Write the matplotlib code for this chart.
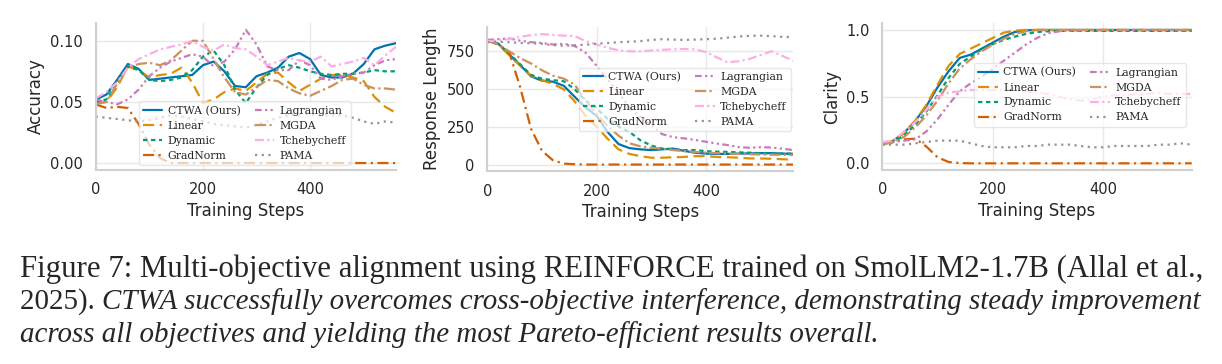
import numpy as np
import matplotlib
matplotlib.use("Agg")
import matplotlib.pyplot as plt
import seaborn as sns

# training steps (every 20 steps)
steps = np.arange(0, 561, 20)

methods = ["CTWA (Ours)", "Linear", "Dynamic", "GradNorm",
           "Lagrangian", "MGDA", "Tchebycheff", "PAMA"]

# --- Accuracy ---
acc_ctwa = [0.052, 0.056, 0.068, 0.081, 0.077, 0.068, 0.069, 0.070, 0.071, 0.072, 0.080, 0.083, 0.075, 0.063, 0.062,
            0.071, 0.074, 0.078, 0.087, 0.090, 0.085, 0.072, 0.070, 0.070, 0.073, 0.081, 0.093, 0.096, 0.098]
acc_linear = [0.049, 0.050, 0.062, 0.079, 0.076, 0.070, 0.072, 0.073, 0.078, 0.066, 0.049, 0.052, 0.058, 0.061, 0.059,
              0.066, 0.073, 0.074, 0.066, 0.059, 0.064, 0.069, 0.072, 0.072, 0.070, 0.067, 0.054, 0.046, 0.041]
acc_dynamic = [0.050, 0.052, 0.066, 0.079, 0.076, 0.068, 0.067, 0.068, 0.070, 0.076, 0.087, 0.092, 0.080, 0.060, 0.049,
               0.062, 0.072, 0.077, 0.080, 0.078, 0.075, 0.073, 0.072, 0.073, 0.073, 0.074, 0.076, 0.075, 0.075]
acc_gradnorm = [0.048, 0.045, 0.046, 0.045, 0.032, 0.015, 0.004, 0.000, 0.000, 0.000, 0.000, 0.000, 0.000, 0.000, 0.000,
                0.000, 0.000, 0.000, 0.000, 0.000, 0.000, 0.000, 0.000, 0.000, 0.000, 0.000, 0.000, 0.000, 0.000]
acc_lagr = [0.052, 0.050, 0.048, 0.052, 0.060, 0.071, 0.078, 0.083, 0.086, 0.089, 0.087, 0.079, 0.083, 0.093, 0.109,
            0.097, 0.079, 0.076, 0.076, 0.084, 0.080, 0.069, 0.068, 0.071, 0.073, 0.074, 0.080, 0.084, 0.085]
acc_mgda = [0.048, 0.050, 0.065, 0.078, 0.081, 0.082, 0.080, 0.084, 0.092, 0.100, 0.100, 0.085, 0.070, 0.058, 0.056,
            0.062, 0.068, 0.067, 0.061, 0.057, 0.055, 0.059, 0.063, 0.068, 0.069, 0.064, 0.061, 0.061, 0.060]
acc_tcheby = [0.053, 0.058, 0.066, 0.078, 0.085, 0.089, 0.093, 0.095, 0.097, 0.100, 0.095, 0.092, 0.097, 0.094, 0.093,
              0.087, 0.080, 0.083, 0.086, 0.084, 0.083, 0.087, 0.079, 0.081, 0.083, 0.086, 0.080, 0.088, 0.095]
acc_pama = [0.038, 0.037, 0.036, 0.035, 0.034, 0.035, 0.037, 0.039, 0.038, 0.036, 0.034, 0.032, 0.031, 0.030, 0.029,
            0.031, 0.034, 0.037, 0.039, 0.040, 0.040, 0.039, 0.039, 0.039, 0.037, 0.034, 0.032, 0.034, 0.033]

# --- Response length ---
len_ctwa = [818, 795, 725, 655, 580, 552, 545, 518, 445, 375, 320, 215, 135, 108, 100,
            95, 100, 105, 90, 78, 72, 70, 70, 72, 73, 75, 75, 72, 70]
len_linear = [815, 790, 720, 650, 585, 555, 530, 495, 415, 320, 250, 170, 100, 70, 55,
              45, 45, 48, 50, 55, 55, 50, 48, 45, 40, 40, 38, 35, 32]
len_dynamic = [818, 795, 730, 660, 590, 565, 555, 548, 495, 420, 370, 300, 250, 215, 160,
               125, 105, 100, 95, 95, 88, 85, 83, 80, 78, 75, 72, 72, 72]
len_gradnorm = [818, 790, 740, 510, 235, 90, 28, 6, 2, 0, 0, 0, 0, 0, 0,
                0, 0, 0, 0, 0, 0, 0, 0, 0, 0, 0, 0, 0, 0]
len_lagr = [820, 825, 830, 815, 805, 800, 790, 795, 780, 735, 650, 560, 475, 375, 315,
            260, 200, 180, 172, 162, 150, 138, 128, 115, 110, 114, 112, 104, 95]
len_mgda = [820, 790, 745, 700, 665, 620, 585, 565, 525, 420, 330, 255, 190, 140, 120,
            110, 105, 95, 88, 83, 78, 75, 72, 70, 68, 66, 65, 64, 63]
len_tcheby = [812, 815, 825, 840, 852, 858, 852, 848, 845, 812, 790, 768, 752, 745, 745,
              750, 755, 758, 760, 758, 740, 705, 672, 680, 695, 720, 745, 715, 682]
len_pama = [805, 808, 805, 800, 798, 795, 785, 782, 785, 788, 795, 800, 805, 808, 812,
            820, 825, 822, 820, 822, 825, 828, 835, 842, 847, 848, 845, 840, 838]

# --- Clarity ---
clr_ctwa = [0.15, 0.17, 0.23, 0.32, 0.43, 0.57, 0.69, 0.79, 0.815, 0.86, 0.905, 0.95, 0.985, 0.997, 1.0,
            1.0, 1.0, 1.0, 1.0, 1.0, 1.0, 1.0, 1.0, 1.0, 1.0, 1.0, 1.0, 1.0, 1.0]
clr_linear = [0.15, 0.17, 0.23, 0.32, 0.44, 0.59, 0.73, 0.82, 0.86, 0.90, 0.94, 0.98, 0.995, 1.0, 1.0,
              1.0, 1.0, 1.0, 1.0, 1.0, 1.0, 1.0, 1.0, 1.0, 1.0, 1.0, 1.0, 1.0, 1.0]
clr_dynamic = [0.14, 0.16, 0.21, 0.29, 0.39, 0.51, 0.64, 0.745, 0.80, 0.855, 0.895, 0.925, 0.95, 0.97, 0.985,
               0.99, 0.993, 0.993, 0.993, 0.993, 0.993, 0.993, 0.993, 0.993, 0.993, 0.993, 0.993, 0.993, 0.993]
clr_gradnorm = [0.15, 0.16, 0.18, 0.185, 0.125, 0.045, 0.01, 0.002, 0.0, 0.0, 0.0, 0.0, 0.0, 0.0, 0.0,
                0.0, 0.0, 0.0, 0.0, 0.0, 0.0, 0.0, 0.0, 0.0, 0.0, 0.0, 0.0, 0.0, 0.0]
clr_lagr = [0.15, 0.16, 0.17, 0.18, 0.24, 0.33, 0.44, 0.54, 0.60, 0.65, 0.71, 0.77, 0.83, 0.89, 0.94,
            0.975, 0.99, 0.995, 0.997, 0.998, 0.998, 0.998, 0.998, 0.998, 0.998, 0.998, 0.998, 0.998, 0.998]
clr_mgda = [0.14, 0.16, 0.20, 0.27, 0.36, 0.47, 0.60, 0.71, 0.78, 0.84, 0.89, 0.935, 0.97, 0.99, 1.0,
            1.0, 1.0, 1.0, 1.0, 1.0, 1.0, 1.0, 1.0, 1.0, 1.0, 1.0, 1.0, 1.0, 1.0]
clr_tcheby = [0.16, 0.17, 0.24, 0.31, 0.40, 0.50, 0.53, 0.54, 0.55, 0.55, 0.55, 0.55, 0.55, 0.54, 0.53,
              0.52, 0.50, 0.48, 0.47, 0.48, 0.50, 0.51, 0.51, 0.52, 0.52, 0.53, 0.52, 0.52, 0.52]
clr_pama = [0.14, 0.14, 0.14, 0.15, 0.16, 0.17, 0.17, 0.17, 0.15, 0.13, 0.12, 0.12, 0.12, 0.13, 0.13,
            0.14, 0.14, 0.14, 0.13, 0.12, 0.12, 0.13, 0.13, 0.13, 0.13, 0.14, 0.14, 0.15, 0.14]

panels = [
    ("Accuracy", [acc_ctwa, acc_linear, acc_dynamic, acc_gradnorm, acc_lagr, acc_mgda, acc_tcheby, acc_pama],
     [0.0, 0.05, 0.10], ["0.00", "0.05", "0.10"]),
    ("Response Length", [len_ctwa, len_linear, len_dynamic, len_gradnorm, len_lagr, len_mgda, len_tcheby, len_pama],
     [0, 250, 500, 750], ["0", "250", "500", "750"]),
    ("Clarity", [clr_ctwa, clr_linear, clr_dynamic, clr_gradnorm, clr_lagr, clr_mgda, clr_tcheby, clr_pama],
     [0.0, 0.5, 1.0], ["0.0", "0.5", "1.0"]),
]

colors = ["#0173b2", "#de8f05", "#029e73", "#d55e00", "#cc78bc", "#ca9161", "#fbafe4", "#949494"]
styles = ["-", (0, (5, 2.5)), (0, (2, 1.6)), (0, (5, 2, 1, 2)),
          (0, (3, 1.5, 1, 1.5, 1, 1.5)), (0, (5, 1.5, 1, 1.5)), (0, (4, 1.5, 1, 1.5)), (0, (1, 2))]

sns.set_theme(style="whitegrid")
plt.rcParams["font.family"] = ["DejaVu Sans"]

fig = plt.figure(figsize=(12.22, 3.64), dpi=100)

# axes rectangles and legend anchors (figure / axes fractions)
rects = [[0.0783, 0.533, 0.2457, 0.4047],
         [0.3988, 0.530, 0.2504, 0.395],
         [0.7220, 0.533, 0.2532, 0.403]]
leg_anchor = [(0.143, 0.465), (0.30, 0.72), (0.296, 0.729)]
ylims = [(-0.0057, 0.1148), (-43, 903), (-0.05, 1.05)]

for k, (ylabel, series, yticks, yticklabels) in enumerate(panels):
    ax = fig.add_axes(rects[k])
    for name, vals, c, ls in zip(methods, series, colors, styles):
        ax.plot(steps, vals, color=c, linestyle=ls, linewidth=1.6, label=name)
    ax.set_xlim(0, 560)
    ax.set_ylim(*ylims[k])
    ax.set_xticks([0, 200, 400])
    ax.set_yticks(yticks)
    ax.set_yticklabels(yticklabels)
    ax.tick_params(axis="both", length=0, pad=9, labelsize=10.5, labelcolor="#262626")
    ax.set_xlabel("Training Steps", fontsize=12, color="#262626", labelpad=3)
    ax.set_ylabel(ylabel, fontsize=12, color="#262626", labelpad=4)
    ax.grid(True, color="#e8e8e8", linewidth=1.0)
    for side in ["top", "right"]:
        ax.spines[side].set_visible(False)
    for side in ["left", "bottom"]:
        ax.spines[side].set_color("#d0d0d0")
        ax.spines[side].set_linewidth(1.5)
    ax.legend(ncol=2, loc="upper left", bbox_to_anchor=leg_anchor[k],
              prop={"family": "DejaVu Serif", "size": 7.8},
              frameon=True, framealpha=0.7, edgecolor="#dddddd",
              handlelength=1.8, labelspacing=0.45, columnspacing=1.3,
              borderpad=0.4, handletextpad=0.5, borderaxespad=0)

# caption below the panels, each line fitted to the reference width
cap_font = "Liberation Serif"
x0 = 20 / 1222
renderer = fig.canvas.get_renderer()

line1 = fig.text(x0, 1 - 276.7 / 364,
                 "Figure 7: Multi-objective alignment using REINFORCE trained on SmolLM2-1.7B (Allal et al.,",
                 family=cap_font, fontsize=20, va="baseline")
w1 = line1.get_window_extent(renderer).width
line1.set_fontsize(20 * 1185 / w1)

line2a = fig.text(x0, 1 - 309 / 364, "2025). ", family=cap_font, fontsize=20, va="baseline")
line2b = fig.text(x0, 1 - 309 / 364,
                  "CTWA successfully overcomes cross-objective interference, demonstrating steady improvement",
                  family=cap_font, style="italic", fontsize=20, va="baseline")
w2 = line2a.get_window_extent(renderer).width + line2b.get_window_extent(renderer).width
size2 = 20 * 1185 / w2
line2a.set_fontsize(size2)
line2b.set_fontsize(size2)
wa = line2a.get_window_extent(renderer).width
line2b.set_x(x0 + wa / 1222)

fig.text(x0, 1 - 342 / 364,
         "across all objectives and yielding the most Pareto-efficient results overall.",
         family=cap_font, style="italic", fontsize=size2, va="baseline")

fig.savefig("out.png", dpi=100)
